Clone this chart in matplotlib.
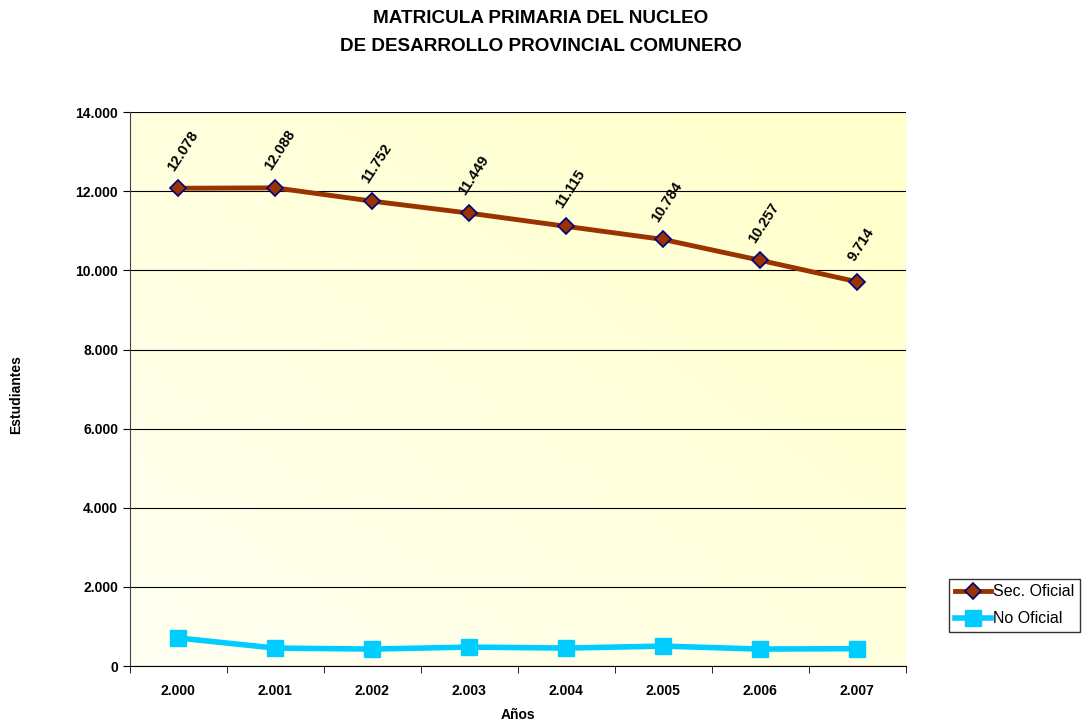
#!/usr/bin/env python3

import numpy as np
import matplotlib
matplotlib.use("Agg")
import matplotlib.pyplot as plt
from matplotlib.ticker import FuncFormatter

plt.rcParams['font.family'] = ['Liberation Sans', 'DejaVu Sans']

# Data
years = ["2.000", "2.001", "2.002", "2.003", "2.004", "2.005", "2.006", "2.007"]
oficial = [12078, 12088, 11752, 11449, 11115, 10784, 10257, 9714]
no_oficial = [710, 455, 430, 480, 455, 505, 430, 440]


def miles(v, pos=None):
    return "{:,.0f}".format(v).replace(",", ".")


fig = plt.figure(figsize=(10.82, 7.24), dpi=100)
ax = fig.add_axes([0.120, 0.080, 0.717, 0.765])

x = np.arange(len(years))
ax.set_xlim(-0.5, len(years) - 0.5)
ax.set_ylim(0, 14000)

# background gradient: near white bottom-left to pale yellow top-right
gx, gy = np.meshgrid(np.linspace(0, 1, 200), np.linspace(0, 1, 200))
t = np.clip((gx * 0.55 + gy * 0.55), 0, 1)
c0 = np.array([1.0, 1.0, 0.95])
c1 = np.array([1.0, 1.0, 0.80])
img = c0[None, None, :] * (1 - t[..., None]) + c1[None, None, :] * t[..., None]
ax.imshow(img, extent=[-0.5, len(years) - 0.5, 0, 14000], origin="lower",
          aspect="auto", zorder=0)

ax.yaxis.grid(True, color="black", linewidth=0.8, zorder=1)
ax.set_axisbelow(True)

ax.plot(x, oficial, color="#993300", linewidth=3.5, marker="D", markersize=8,
        markerfacecolor="#993300", markeredgecolor="#000080", markeredgewidth=1.2,
        label="Sec. Oficial", zorder=3)
ax.plot(x, no_oficial, color="#00CCFF", linewidth=4, marker="s", markersize=11,
        markerfacecolor="#00CCFF", markeredgecolor="#00CCFF",
        label="No Oficial", zorder=3)

for xi, v in zip(x, oficial):
    ax.annotate(miles(v), (xi, v), xytext=(3, 27), textcoords="offset points",
                rotation=57, ha="center", va="center", fontsize=10.5,
                fontweight="bold", rotation_mode="anchor")

ax.set_xticks(x)
ax.set_xticklabels(years, fontsize=10, fontweight="bold")
ax.set_xticks(np.arange(-0.5, len(years)), minor=True)
ax.tick_params(axis="x", which="major", length=0, pad=13)
ax.tick_params(axis="x", which="minor", length=5, direction="out")
ax.set_yticks(np.arange(0, 14001, 2000))
ax.yaxis.set_major_formatter(FuncFormatter(miles))
ax.tick_params(axis="y", length=5, direction="out", labelsize=10)
for lab in ax.get_yticklabels():
    lab.set_fontweight("bold")

for s in ["top", "right"]:
    ax.spines[s].set_visible(False)
ax.spines["left"].set_color("#444444")
ax.spines["bottom"].set_color("black")

ax.set_xlabel("Años", fontsize=10, fontweight="bold")
ax.xaxis.set_label_coords(0.5, -0.076)
ax.set_ylabel("Estudiantes", fontsize=10, fontweight="bold")
ax.yaxis.set_label_coords(-0.137, 0.49)

fig.suptitle("MATRICULA PRIMARIA DEL NUCLEO\nDE DESARROLLO PROVINCIAL COMUNERO",
             fontsize=13.6, fontweight="bold", y=0.986, linespacing=1.8)

leg = fig.legend(loc="lower left", bbox_to_anchor=(0.877, 0.127),
                 frameon=True, fancybox=False, edgecolor="black",
                 fontsize=11.5, handlelength=2.3, handletextpad=0.1,
                 borderpad=0.35, labelspacing=0.75, borderaxespad=0)
leg.get_frame().set_linewidth(1.0)

fig.savefig("out.png", dpi=100)
